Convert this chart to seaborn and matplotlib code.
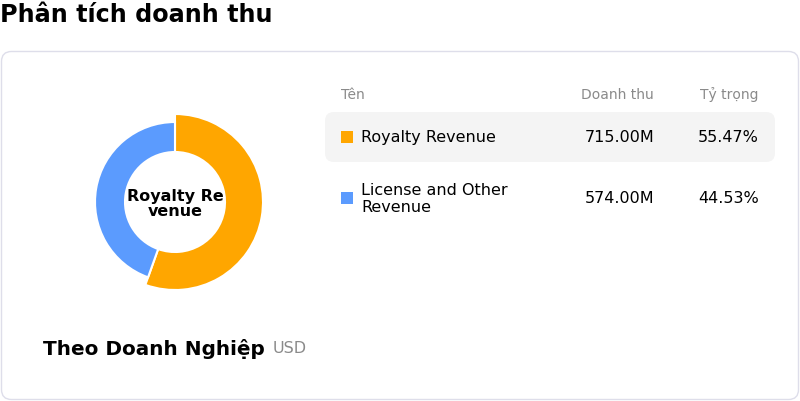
import matplotlib
matplotlib.use("Agg")
import matplotlib.pyplot as plt
from matplotlib.patches import FancyBboxPatch
import seaborn as sns

# dữ liệu biểu đồ
names = ["Royalty Revenue", "License and Other\nRevenue"]
revenue = [715.00, 574.00]  # triệu USD
shares = [55.47, 44.53]
colors = ["#ffa600", "#5b9bfe"]
center_label = "Royalty Re\nvenue"
headers = ["Tên", "Doanh thu", "Tỷ trọng"]

sns.set_theme(style="white")
plt.rcParams["font.family"] = ["DejaVu Sans"]
FONT = dict(family="DejaVu Sans")

W, H = 800, 402
fig = plt.figure(figsize=(W / 100, H / 100), dpi=100)

# khung nền theo pixel (y hướng xuống)
ax = fig.add_axes([0, 0, 1, 1])
ax.set_xlim(0, W)
ax.set_ylim(H, 0)
ax.axis("off")

ax.text(0, 15, "Phân tích doanh thu", fontsize=17.2, fontweight="bold",
        va="center", ha="left", color="black", **FONT)

card = FancyBboxPatch((1.5, 52.5), 797, 348, boxstyle="round,pad=0,rounding_size=10",
                      fc="white", ec="#dedeea", lw=1)
ax.add_patch(card)

# donut
cx, cy, R = 175, 203, 90
axp = fig.add_axes([(cx - R) / W, 1 - (cy + R) / H, 2 * R / W, 2 * R / H])
wedges, _ = axp.pie(revenue, colors=colors, startangle=90, counterclock=False,
                    radius=80, wedgeprops=dict(width=30, edgecolor="white", linewidth=1.5))
wedges[0].set_radius(88)
wedges[0].set_width(38)
axp.set_xlim(-R, R)
axp.set_ylim(-R, R)
axp.set_aspect("equal")
axp.axis("off")
axp.text(0, -1, center_label, ha="center", va="center", fontsize=11.5,
         fontweight="bold", linespacing=1.0, color="black", **FONT)

# bảng
gray = "#8a8a8a"
ax.text(341, 95, headers[0], color=gray, fontsize=10, va="center", **FONT)
ax.text(654, 95, headers[1], color=gray, fontsize=10, va="center", ha="right", **FONT)
ax.text(759, 95, headers[2], color=gray, fontsize=10, va="center", ha="right", **FONT)

row_y = [138, 199]
hl = FancyBboxPatch((325, 113), 450, 50, boxstyle="round,pad=0,rounding_size=9",
                    fc="#f4f4f4", ec="none")
ax.add_patch(hl)
for i in range(len(names)):
    y = row_y[i]
    ax.add_patch(plt.Rectangle((341, y - 6), 12, 12, fc=colors[i], ec="none"))
    ax.text(361, y, names[i], fontsize=11.5, va="center", color="black",
            linespacing=1.2, **FONT)
    ax.text(654, y, f"{revenue[i]:.2f}M", fontsize=11.5, va="center", ha="right",
            color="black", **FONT)
    ax.text(759, y, f"{shares[i]:.2f}%", fontsize=11.5, va="center", ha="right",
            color="black", **FONT)

ax.text(43, 349, "Theo Doanh Nghiệp", fontsize=14.4, fontweight="bold", va="center",
        color="black", **FONT)
ax.text(273, 349, "USD", fontsize=11.5, color=gray, va="center", **FONT)

fig.savefig("out.png", dpi=100)
